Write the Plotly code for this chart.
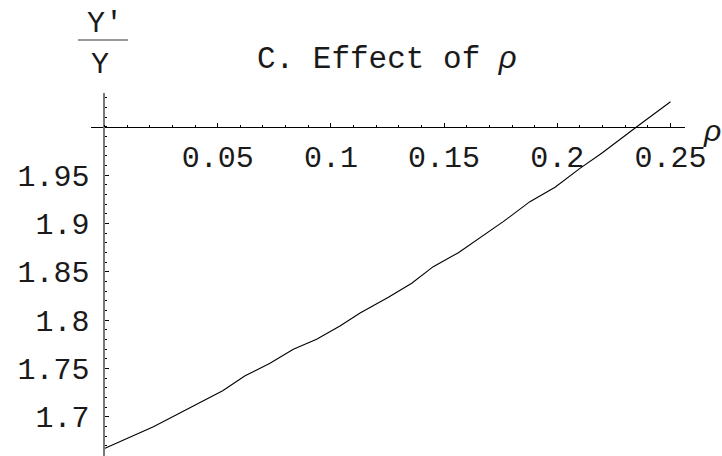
import plotly.graph_objects as go

# Growth-rate ratio y'/y as a function of rho
rho = [0.000, 0.0216, 0.0522, 0.0621, 0.0731, 0.0834, 0.0937, 0.1040, 0.1129,
       0.1254, 0.1357, 0.1452, 0.1563, 0.1666, 0.1761, 0.1879, 0.1990, 0.2100,
       0.2196, 0.2351, 0.2500]
ratio = [1.667, 1.6896, 1.7269, 1.7424, 1.7553, 1.7698, 1.7801, 1.7939, 1.8073,
         1.8236, 1.8381, 1.8553, 1.8698, 1.8863, 1.9019, 1.9226, 1.9375, 1.9571,
         1.9727, 2.0002, 2.0261]

x_ticks = [0.05, 0.1, 0.15, 0.2, 0.25]
x_tick_text = ["0.05", "0.1", "0.15", "0.2", "0.25"]
y_ticks = [1.7, 1.75, 1.8, 1.85, 1.9, 1.95]
y_tick_text = ["1.7", "1.75", "1.8", "1.85", "1.9", "1.95"]

W, H = 722, 456
ML, MR, MT, MB = 91, 37, 93, 0
PW, PH = W - ML - MR, H - MT - MB

X_RANGE = [-0.00596, 0.2564]
Y_RANGE = [1.6593, 2.0351]
X_ORIGIN, Y_ORIGIN = 0.0, 2.0


def px_to_paper(px, py):
    return (px - ML) / PW, (H - MB - py) / PH


MONO = "Liberation Mono, Courier New, monospace"
SANS = "Liberation Sans, Arial, sans-serif"
TEXT = "#1a1a1a"

fig = go.Figure()
fig.add_trace(go.Scatter(x=rho, y=ratio, mode="lines",
                         line=dict(color="black", width=1.1),
                         hoverinfo="skip", showlegend=False))

x_pos = (Y_ORIGIN - Y_RANGE[0]) / (Y_RANGE[1] - Y_RANGE[0])
y_pos = (X_ORIGIN - X_RANGE[0]) / (X_RANGE[1] - X_RANGE[0])

fig.update_layout(
    width=W, height=H,
    margin=dict(l=ML, r=MR, t=MT, b=MB, pad=0),
    paper_bgcolor="white", plot_bgcolor="white",
    showlegend=False,
    xaxis=dict(
        range=X_RANGE, anchor="free", position=x_pos,
        showgrid=False, zeroline=False,
        showline=True, linecolor="black", linewidth=1,
        ticks="inside", ticklen=4, tickwidth=1, tickcolor="black",
        tickvals=x_ticks, ticktext=x_tick_text,
        tickfont=dict(family=MONO, size=30, color=TEXT),
        ticklabelstandoff=3,
        minor=dict(dtick=0.01, tick0=0, ticks="inside", ticklen=2,
                   tickwidth=1, tickcolor="black", showgrid=False),
    ),
    yaxis=dict(
        range=Y_RANGE, anchor="free", position=y_pos,
        showgrid=False, zeroline=False,
        showline=True, linecolor="#7a7a7a", linewidth=2,
        ticks="inside", ticklen=4, tickwidth=1, tickcolor="black",
        tickvals=y_ticks, ticktext=y_tick_text,
        tickfont=dict(family=MONO, size=30, color=TEXT),
        ticklabelstandoff=8,
        minor=dict(dtick=0.01, tick0=0, ticks="inside", ticklen=2,
                   tickwidth=1, tickcolor="black", showgrid=False),
    ),
)

# Title above the plot
tx, ty = px_to_paper(387, 59)
fig.add_annotation(
    text="C. Effect of <span style=\"font-family:'Liberation Sans'\"><i>ρ</i></span>",
    xref="paper", yref="paper", x=tx, y=ty, xanchor="center", yanchor="middle",
    showarrow=False, font=dict(family=MONO, size=31, color=TEXT),
)

# Horizontal axis label
rx, ry = px_to_paper(712, 130)
fig.add_annotation(text="<i>ρ</i>", xref="paper", yref="paper", x=rx, y=ry,
                   xanchor="center", yanchor="middle", showarrow=False,
                   font=dict(family=SANS, size=30, color=TEXT))

# Vertical axis label written as a fraction Y'/Y
nx, ny = px_to_paper(105, 24)
fig.add_annotation(text="Y'", xref="paper", yref="paper", x=nx, y=ny,
                   xanchor="center", yanchor="middle", showarrow=False,
                   font=dict(family=MONO, size=30, color=TEXT))
dx, dy = px_to_paper(100, 65)
fig.add_annotation(text="Y", xref="paper", yref="paper", x=dx, y=dy,
                   xanchor="center", yanchor="middle", showarrow=False,
                   font=dict(family=MONO, size=30, color=TEXT))
l0x, l0y = px_to_paper(78, 40)
l1x, _ = px_to_paper(128, 40)
fig.add_shape(type="line", xref="paper", yref="paper",
              x0=l0x, x1=l1x, y0=l0y, y1=l0y,
              line=dict(color="#333", width=1))

fig.write_html("out.html")
